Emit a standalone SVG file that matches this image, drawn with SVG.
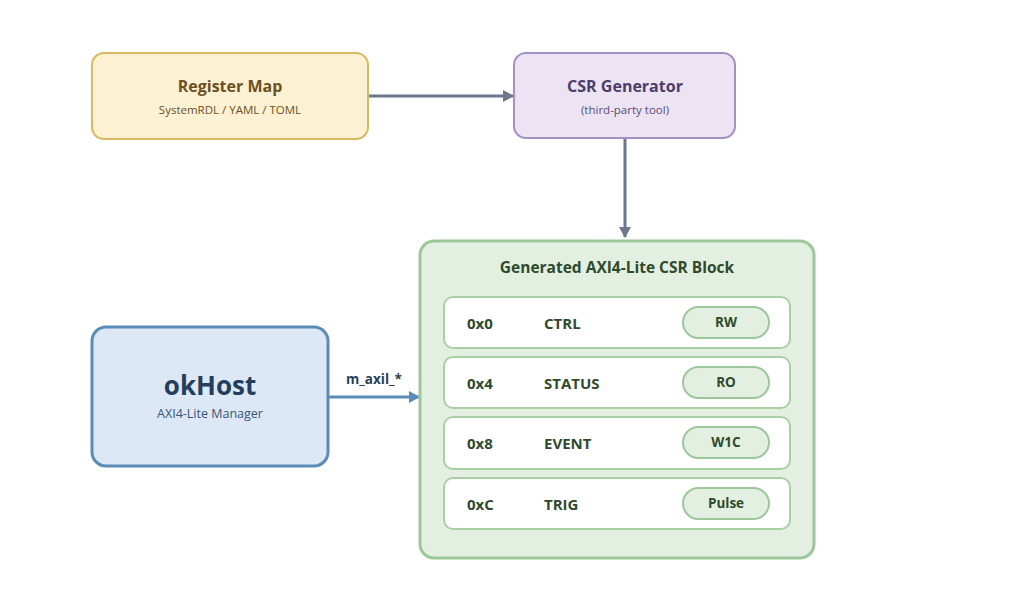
<svg xmlns="http://www.w3.org/2000/svg" width="1024" height="593" viewBox="0 0 1024 593">
<defs>
<style>
text{font-family:"Open Sans","Liberation Sans",sans-serif;text-anchor:middle}
.t{font-weight:700;font-size:16px}
.s{font-size:11.5px}
.row{fill:#ffffff;stroke:#a9d0a5;stroke-width:2}
.pill{fill:#e3f0e1;stroke:#9cc79a;stroke-width:2}
.rt{font-weight:700;font-size:15px;fill:#2f4a2c;text-anchor:start}
.pt{font-weight:700;font-size:13.5px;fill:#2f4a2c}
</style>
<marker id="ag" markerWidth="12" markerHeight="12" refX="10" refY="6" orient="auto" markerUnits="userSpaceOnUse">
<path d="M0,0 L11,6 L0,12 Z" fill="#6b778a"/>
</marker>
<marker id="ab" markerWidth="12" markerHeight="12" refX="10" refY="6" orient="auto" markerUnits="userSpaceOnUse">
<path d="M0,0 L11,6 L0,12 Z" fill="#5b8cb8"/>
</marker>
</defs>
<rect width="1024" height="593" fill="#ffffff"/>
<g id="connectors">
<line x1="368" y1="96" x2="513" y2="96" stroke="#6b778a" stroke-width="3" marker-end="url(#ag)"/>
<line x1="625" y1="138" x2="625" y2="237" stroke="#6b778a" stroke-width="3" marker-end="url(#ag)"/>
<line x1="328" y1="397" x2="419" y2="397" stroke="#5b8cb8" stroke-width="3" marker-end="url(#ab)"/>
<text x="374" y="384" style="font-weight:700;font-size:13.5px;fill:#2a3f5a">m_axil_*</text>
</g>
<g id="register-map">
<rect x="92" y="53" width="276" height="86" rx="12" fill="#fdf1d3" stroke="#d9b862" stroke-width="2"/>
<text x="230" y="92" class="t" fill="#6b5020">Register Map</text>
<text x="230" y="114" class="s" fill="#6b5020">SystemRDL / YAML / TOML</text>
</g>
<g id="csr-generator">
<rect x="514" y="53" width="221" height="85" rx="12" fill="#ece3f3" stroke="#a590c6" stroke-width="2"/>
<text x="625" y="92" class="t" fill="#4c3d6b">CSR Generator</text>
<text x="625" y="114" class="s" fill="#5c4d7b">(third-party tool)</text>
</g>
<g id="okhost">
<rect x="92" y="327" width="236" height="139" rx="14" fill="#dce8f5" stroke="#5b8cb8" stroke-width="3"/>
<text x="210" y="395" style="font-weight:700;font-size:26px;fill:#253e5e">okHost</text>
<text x="210" y="418" style="font-size:12.5px;fill:#3a5575">AXI4-Lite Manager</text>
</g>
<g id="csr-block">
<rect x="420" y="241" width="394" height="317" rx="14" fill="#e3f0e1" stroke="#9cc79a" stroke-width="3"/>
<text x="617" y="273" style="font-weight:700;font-size:15.5px;fill:#2f4a2c">Generated AXI4-Lite CSR Block</text>
</g>
<g id="reg-ctrl">
<rect x="444" y="297" width="346" height="51" rx="9" class="row"/>
<text x="467" y="329" class="rt">0x0</text>
<text x="544" y="329" class="rt">CTRL</text>
<rect x="683" y="307" width="86" height="31" rx="15.5" class="pill"/>
<text x="726" y="327" class="pt">RW</text>
</g>
<g id="reg-status">
<rect x="444" y="357" width="346" height="51" rx="9" class="row"/>
<text x="467" y="389" class="rt">0x4</text>
<text x="544" y="389" class="rt">STATUS</text>
<rect x="683" y="367" width="86" height="31" rx="15.5" class="pill"/>
<text x="726" y="387" class="pt">RO</text>
</g>
<g id="reg-event">
<rect x="444" y="417" width="346" height="52" rx="9" class="row"/>
<text x="467" y="449" class="rt">0x8</text>
<text x="544" y="449" class="rt">EVENT</text>
<rect x="683" y="427" width="86" height="31" rx="15.5" class="pill"/>
<text x="726" y="447" class="pt">W1C</text>
</g>
<g id="reg-trig">
<rect x="444" y="478" width="346" height="51" rx="9" class="row"/>
<text x="467" y="510" class="rt">0xC</text>
<text x="544" y="510" class="rt">TRIG</text>
<rect x="683" y="488" width="86" height="31" rx="15.5" class="pill"/>
<text x="726" y="508" class="pt">Pulse</text>
</g>
</svg>
